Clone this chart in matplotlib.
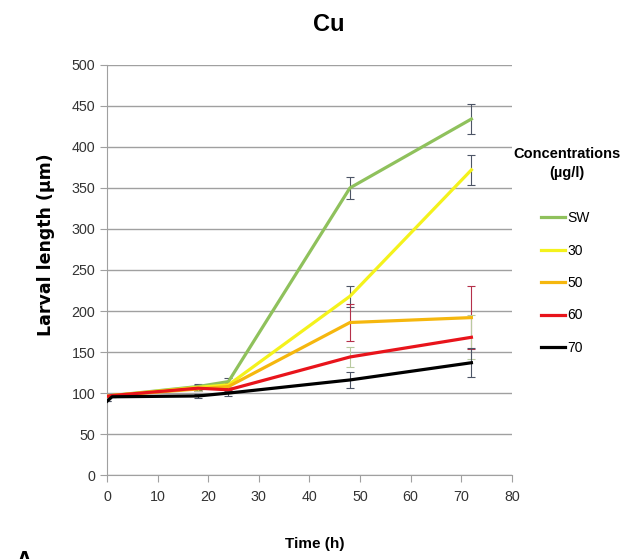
import matplotlib.pyplot as plt

# time points (h) and mean larval length (um) per concentration
t = [0, 1, 18, 24, 48, 72]
sw = [96, 97, 108, 114, 350, 434]
c30 = [96, 97, 107, 110, 218, 372]
c50 = [96, 97, 105, 108, 186, 192]
c60 = [96, 97, 106, 104, 144, 168]
c70 = [90, 95.5, 96.5, 100, 116, 137]

sw_err = [0, 0, 3, 4, 13, 18]
c30_err = [0, 0, 3, 4, 13, 18]
c50_err = [0, 0, 3, 4, 22, 38]
c60_err = [0, 0, 3, 4, 12, 27]
c70_err = [0, 0, 2, 3, 10, 18]

labels = ["SW", "30", "50", "60", "70"]
series = [sw, c30, c50, c60, c70]
errors = [sw_err, c30_err, c50_err, c60_err, c70_err]
colors = ["#8fc15c", "#f4f21c", "#f5b70e", "#e8141b", "#000000"]
err_colors = ["#4d5566", "#4d5566", "#b5304a", "#b9caa0", "#4d5566"]

font = ["Liberation Sans", "DejaVu Sans"]

fig = plt.figure(figsize=(6.22, 5.59), dpi=100)
ax = fig.add_axes([0.172, 0.150, 0.651, 0.734])

for y, e, c, ec, lab in zip(series, errors, colors, err_colors, labels):
    ax.errorbar(t, y, yerr=e, fmt="none", ecolor=ec, elinewidth=0.8,
                capsize=3, capthick=0.8, zorder=2)
    ax.plot(t, y, color=c, lw=2.3, label=lab, zorder=3,
            solid_joinstyle="round")

ax.set_xlim(0, 80)
ax.set_ylim(0, 500)
ax.set_xticks(range(0, 81, 10))
ax.set_yticks(range(0, 501, 50))
ax.yaxis.grid(True, color="#a0a0a0", lw=1)
ax.set_axisbelow(True)
for s in ["top", "right"]:
    ax.spines[s].set_visible(False)
for s in ["left", "bottom"]:
    ax.spines[s].set_color("#a0a0a0")
ax.tick_params(axis="both", color="#a0a0a0", length=5, labelsize=10.3,
               labelcolor="#333333")
ax.tick_params(axis="x", pad=6)
ax.tick_params(axis="y", pad=3.5)
for lbl in ax.get_xticklabels() + ax.get_yticklabels():
    lbl.set_family(font)

ax.set_xlabel("Time (h)", fontsize=11, fontweight="bold", family=font)
ax.xaxis.set_label_coords(0.514, -0.151)
ax.set_ylabel("Larval length (\u00b5m)", fontsize=12.5, fontweight="bold",
              family="DejaVu Sans")
ax.yaxis.set_label_coords(-0.128, 0.561)

fig.text(0.529, 0.957, "Cu", fontsize=17, fontweight="bold", family=font,
         ha="center", va="center")

# legend entries, with the heading drawn separately above them
leg = ax.legend(loc="center left", bbox_to_anchor=(0.8585, 0.4937),
                bbox_transform=fig.transFigure, frameon=False,
                handlelength=1.75, handletextpad=0.15, labelspacing=1.33,
                borderpad=0, prop={"family": font, "size": 10})
fig.text(0.9116, 0.7075, "Concentrations\n(\u00b5g/l)", fontsize=10.5,
         fontweight="bold", family=font, ha="center", va="center",
         linespacing=1.4)

fig.text(0.024, -0.016, "A", fontsize=17, fontweight="bold", family=font)

fig.savefig("out.png", dpi=100)
